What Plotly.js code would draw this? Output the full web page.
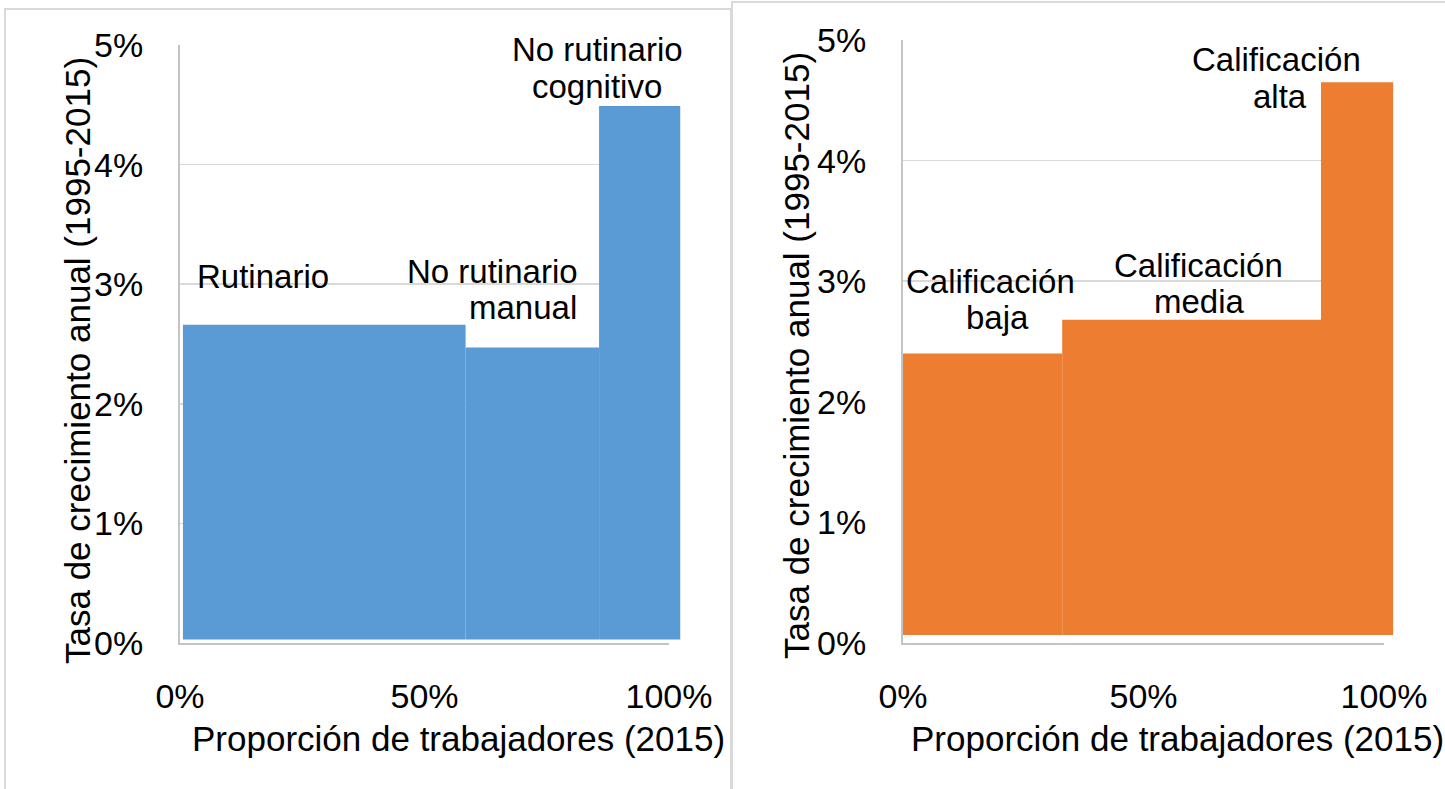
<!DOCTYPE html>
<html>
<head>
<meta charset="utf-8">
<script src="https://cdn.plot.ly/plotly-3.0.1.min.js"></script>
<style>html,body{margin:0;padding:0;background:#fff;}#chart{width:1445px;height:789px;}</style>
</head>
<body>
<div id="chart"></div>
<script>
// ---- Data ----
const catsLeft = ["Rutinario", "No rutinario manual", "No rutinario cognitivo"];
const shareLeft = [57.8, 27.3, 16.6];      // proporción de trabajadores (%)
const growthLeft = [2.66, 2.47, 4.49];     // tasa de crecimiento anual (%)
const startLeft = 0.6;
const baseLeft = 0.03;

const catsRight = ["Calificación baja", "Calificación media", "Calificación alta"];
const shareRight = [33.1, 53.8, 15.0];
const growthRight = [2.40, 2.68, 4.65];
const startRight = 0;
const baseRight = 0.066;

const xTickVals = [0, 50, 100];
const xTickText = ["0%", "50%", "100%"];
const yTickVals = [0, 1, 2, 3, 4, 5];
const yTickText = ["0%", "1%", "2%", "3%", "4%", "5%"];

const xTitle = "Proporción de trabajadores (2015)";
const yTitle = "Tasa de crecimiento anual (1995-2015)";

// ---- Helpers ----
const W = 1445, H = 789;
const px = v => v / W;
const py = v => 1 - v / H;
const FONT = "Liberation Sans, Arial, sans-serif";

function barTrace(cats, shares, growth, start, base, color, xa, ya) {
  let cum = start;
  const xs = [], ws = [];
  shares.forEach(s => { xs.push(cum + s / 2); ws.push(s); cum += s; });
  return {
    type: "bar", x: xs, y: growth.map(g => g - base), base: growth.map(() => base),
    width: ws, text: cats, textposition: "none", hoverinfo: "text",
    marker: { color: color, line: { width: 0 } },
    xaxis: xa, yaxis: ya, showlegend: false
  };
}

const data = [
  { type: "scatter", x: [], y: [], xaxis: "x", yaxis: "y", showlegend: false, hoverinfo: "skip" },
  { type: "scatter", x: [], y: [], xaxis: "x2", yaxis: "y2", showlegend: false, hoverinfo: "skip" },
  barTrace(catsLeft, shareLeft, growthLeft, startLeft, baseLeft, "#5B9BD5", "x3", "y3"),
  barTrace(catsRight, shareRight, growthRight, startRight, baseRight, "#ED7D31", "x4", "y4")
];

const tickFont = { family: FONT, size: 34, color: "#000" };

function visX(domain, anchor) {
  return {
    domain: domain, range: [0, 100], anchor: anchor,
    tickvals: xTickVals, ticktext: xTickText, tickfont: tickFont,
    showgrid: false, zeroline: false, showline: true, linecolor: "#c4c4c4", linewidth: 2,
    ticks: "", ticklabelstandoff: 22, fixedrange: true
  };
}
function visY(domain, anchor) {
  return {
    domain: domain, range: [0, 5], anchor: anchor,
    tickvals: yTickVals, ticktext: yTickText, tickfont: tickFont,
    showgrid: true, gridcolor: "#d9d9d9", gridwidth: 1.5, zeroline: false,
    showline: true, linecolor: "#c4c4c4", linewidth: 2,
    ticks: "", ticklabelstandoff: 28, fixedrange: true
  };
}
function hidAx(domain, range, anchor) {
  return { domain: domain, range: range, anchor: anchor, visible: false, fixedrange: true };
}

const yDomL = [py(643), py(45)];
const yDomR = [py(643), py(40)];
const sclL = (669 - 180) / 100;
const sclR = (1384 - 903) / 100;

const labelFont = { family: FONT, size: 33, color: "#000" };
function lab(text, x, y) {
  return { text: text, xref: "paper", yref: "paper", x: px(x), y: py(y),
           xanchor: "center", yanchor: "middle", showarrow: false, font: labelFont };
}

const annotations = [
  lab(catsLeft[0], 263, 277),
  lab("No rutinario", 492, 271),
  lab("manual", 523, 307),
  lab("No rutinario", 597, 50),
  lab("cognitivo", 597, 87),
  lab("Calificación", 991, 281),
  lab("baja", 997, 317),
  lab("Calificación", 1198, 265),
  lab("media", 1199, 301),
  lab("Calificación", 1276, 60),
  lab("alta", 1280, 97),
  { text: xTitle, xref: "paper", yref: "paper", x: px(458), y: py(738), xanchor: "center", yanchor: "middle",
    showarrow: false, font: { family: FONT, size: 35, color: "#000" } },
  { text: xTitle, xref: "paper", yref: "paper", x: px(1177), y: py(738), xanchor: "center", yanchor: "middle",
    showarrow: false, font: { family: FONT, size: 35, color: "#000" } },
  { text: yTitle, xref: "paper", yref: "paper", x: px(78), y: py(361), xanchor: "center", yanchor: "middle",
    textangle: -90, showarrow: false, font: { family: FONT, size: 35, color: "#000" } },
  { text: yTitle, xref: "paper", yref: "paper", x: px(797), y: py(356), xanchor: "center", yanchor: "middle",
    textangle: -90, showarrow: false, font: { family: FONT, size: 35, color: "#000" } }
];

const shapes = [
  { type: "rect", xref: "paper", yref: "paper", x0: px(5), x1: px(731), y0: -0.1, y1: py(9),
    line: { color: "#d9d9d9", width: 2 }, fillcolor: "rgba(0,0,0,0)" },
  { type: "rect", xref: "paper", yref: "paper", x0: px(732), x1: 1.1, y0: -0.1, y1: py(2),
    line: { color: "#d9d9d9", width: 2 }, fillcolor: "rgba(0,0,0,0)" }
];

const layout = {
  width: W, height: H,
  margin: { l: 0, r: 0, t: 0, b: 0, pad: 0 },
  paper_bgcolor: "#fff", plot_bgcolor: "rgba(0,0,0,0)",
  showlegend: false,
  font: { family: FONT, color: "#000" },
  xaxis: visX([px(180), px(669)], "y"),
  yaxis: visY(yDomL, "x"),
  xaxis2: visX([px(903), px(1384)], "y2"),
  yaxis2: visY(yDomR, "x2"),
  xaxis3: hidAx([px(180), px(180 + 105 * sclL)], [0, 105], "y3"),
  yaxis3: hidAx(yDomL, [0, 5], "x3"),
  xaxis4: hidAx([px(903), px(903 + 105 * sclR)], [0, 105], "y4"),
  yaxis4: hidAx(yDomR, [0, 5], "x4"),
  annotations: annotations,
  shapes: shapes
};

Plotly.newPlot("chart", data, layout, { staticPlot: true, displayModeBar: false });
</script>
</body>
</html>
